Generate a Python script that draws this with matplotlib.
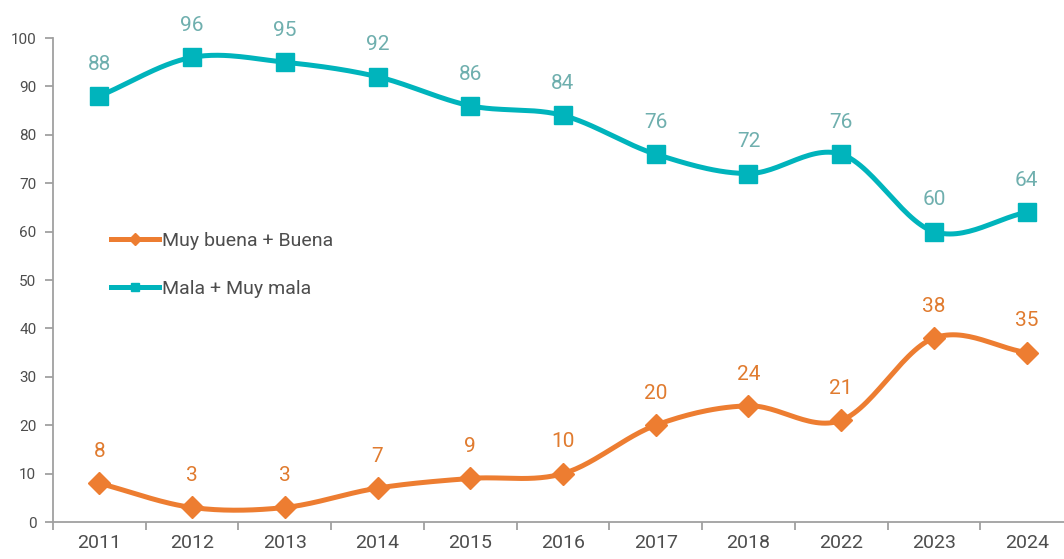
import numpy as np
import matplotlib
matplotlib.use("Agg")
import matplotlib.pyplot as plt
from matplotlib.lines import Line2D

years = ["2011", "2012", "2013", "2014", "2015", "2016", "2017", "2018", "2022", "2023", "2024"]
buena = [8, 3, 3, 7, 9, 10, 20, 24, 21, 38, 35]
mala = [88, 96, 95, 92, 86, 84, 76, 72, 76, 60, 64]

ORANGE = "#ED7D31"
TEAL = "#00B4BC"
ORANGE_LBL = "#E07B2F"
TEAL_LBL = "#6FAFAE"
GRAY = "#A0A0A0"
TXT = "#4D4D4D"

plt.rcParams['font.family'] = ['Roboto', 'DejaVu Sans']


def smooth(x, y, n=30, t=0.5):
    x = np.asarray(x, float)
    y = np.asarray(y, float)
    px = np.concatenate([[2 * x[0] - x[1]], x, [2 * x[-1] - x[-2]]])
    py = np.concatenate([[2 * y[0] - y[1]], y, [2 * y[-1] - y[-2]]])
    xs, ys = [], []
    for i in range(1, len(px) - 2):
        p0, p1, p2, p3 = [np.array([px[j], py[j]]) for j in (i - 1, i, i + 1, i + 2)]
        c1 = p1 + (p2 - p0) * t / 3
        c2 = p2 - (p3 - p1) * t / 3
        s = np.linspace(0, 1, n)[:, None]
        b = (1 - s) ** 3 * p1 + 3 * (1 - s) ** 2 * s * c1 + 3 * (1 - s) * s ** 2 * c2 + s ** 3 * p2
        xs.append(b[:, 0])
        ys.append(b[:, 1])
    return np.concatenate(xs), np.concatenate(ys)


fig = plt.figure(figsize=(10.64, 5.59), dpi=100)
ax = fig.add_axes([53 / 1064, 37 / 559, 1020 / 1064, 484 / 559])
x = np.arange(len(years))

for vals, col, mk, ms, lc in [(mala, TEAL, 's', 12.5, TEAL_LBL), (buena, ORANGE, 'D', 11, ORANGE_LBL)]:
    sx, sy = smooth(x, vals)
    ax.plot(sx, sy, color=col, lw=3.6, solid_capstyle='round', zorder=2)
    ax.plot(x, vals, ls='none', marker=mk, ms=ms, color=col, zorder=3)
    for xi, v in zip(x, vals):
        ax.annotate(str(v), (xi, v), xytext=(0, 16), textcoords='offset points',
                    ha='center', va='bottom', fontsize=15, color=lc)

ax.set_xlim(-0.5, 10.5)
ax.set_ylim(0, 100)
ax.set_yticks(range(0, 101, 10))
ax.set_xticks(x)
ax.set_xticklabels(years)
ax.set_xticks(np.arange(-0.5, 11, 1), minor=True)
ax.tick_params(axis='x', which='major', length=0, labelsize=14, labelcolor=TXT, pad=9)
ax.tick_params(axis='x', which='minor', length=6, width=1.3, color=GRAY, direction='out')
ax.tick_params(axis='y', length=6, width=1.3, color=GRAY, labelsize=11, labelcolor=TXT, pad=6)
for s in ['top', 'right']:
    ax.spines[s].set_visible(False)
for s in ['left', 'bottom']:
    ax.spines[s].set_color(GRAY)
    ax.spines[s].set_linewidth(1.3)

handles = [Line2D([], [], color=ORANGE, lw=3.6, marker='D', ms=6),
           Line2D([], [], color=TEAL, lw=3.6, marker='s', ms=6)]
leg = fig.legend(handles, ["Muy buena + Buena", "Mala + Muy mala"], loc='upper left',
                 bbox_to_anchor=(93 / 1064, 1 - 214 / 559), frameon=False, fontsize=14,
                 handlelength=2.5, handletextpad=0.15, labelspacing=1.55, labelcolor=TXT)

fig.savefig("out.png", dpi=100)
